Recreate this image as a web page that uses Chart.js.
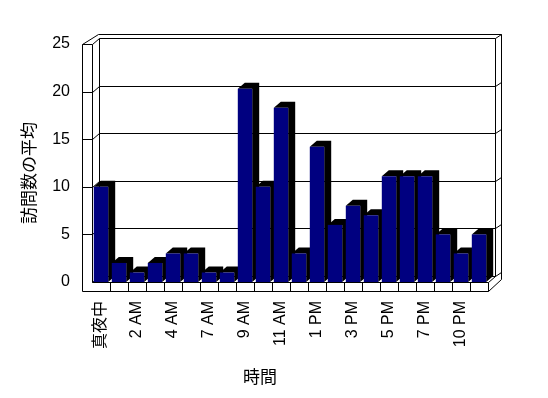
<!DOCTYPE html>
<html>
<head>
<meta charset="utf-8">
<script src="https://cdn.jsdelivr.net/npm/chart.js@4/dist/chart.umd.min.js"></script>
<style>
    html, body { margin: 0; padding: 0; background: #ffffff; }
    #wrap { width: 548px; height: 398px; }
</style>
</head>
<body>
<div id="wrap"><canvas id="grafikKunjungan" width="548" height="398"></canvas></div>
<script>
// --- 1. DATA ---
const jamLabels = ['真夜中', '1 AM', '2 AM', '3 AM', '4 AM', '5 AM', '7 AM', '8 AM', '9 AM', '10 AM', '11 AM',
                   '正午', '1 PM', '2 PM', '3 PM', '4 PM', '5 PM', '6 PM', '7 PM', '8 PM', '10 PM', '11 PM'];
const rataKunjungan = [10, 2, 1, 2, 3, 3, 1, 1, 20.3, 10, 18.3, 3, 14.2, 6, 8, 7, 11.1, 11.1, 11.1, 5, 3, 5];
const yTicks = [0, 5, 10, 15, 20, 25];
const judulX = '時間';
const judulY = '訪問数の平均';

const fontLatin = '"Liberation Sans", "Noto Sans CJK JP", sans-serif';
const fontJudul = '"Noto Sans CJK JP", sans-serif';

// --- 2. PLUGIN EFEK 3D (dinding, lantai, sisi batang) ---
const efek3D = {
    id: 'efek3D',
    beforeDatasetsDraw(chart) {
        const { ctx, chartArea: a, scales: { x, y } } = chart;
        const dx = 7, dy = 6;          // kedalaman ke belakang
        const L = a.left, R = a.right, B = a.bottom;
        const T = y.getPixelForValue(yTicks[yTicks.length - 1]);
        const bl = L + dx, br = R + dx; // dinding belakang
        const wl = L - 10;              // tepi luar dinding kiri
        const tebal = 9;                // tebal lantai

        ctx.save();
        ctx.strokeStyle = '#000';
        ctx.lineWidth = 1;
        const garis = (pts) => {
            ctx.beginPath();
            ctx.moveTo(Math.round(pts[0][0]) + 0.5, Math.round(pts[0][1]) + 0.5);
            for (let i = 1; i < pts.length; i++) {
                ctx.lineTo(Math.round(pts[i][0]) + 0.5, Math.round(pts[i][1]) + 0.5);
            }
            ctx.stroke();
        };

        // garis grid di dinding belakang + dinding kiri
        yTicks.forEach(v => {
            const yy = y.getPixelForValue(v);
            garis([[L, yy], [bl, yy - dy], [br, yy - dy], [br + 6, yy - dy - 4]]);
            if (v !== 0) garis([[wl, yy], [L, yy]]);
        });

        // tepi dinding
        garis([[bl, T - dy], [bl, B - dy]]);
        garis([[br, T - dy], [br, B - dy]]);
        garis([[wl, T], [bl - 1, T - dy - 4], [br + 6, T - dy - 4], [br + 6, B - dy + 3]]);
        garis([[wl, T], [wl, B + tebal]]);
        garis([[L, T], [L, B]]);

        // lantai depan dengan sel kategori
        garis([[L, B], [R, B], [R, B + tebal]]);
        garis([[wl, B + tebal], [R, B + tebal], [br + 6, B - dy + 3]]);
        garis([[R, B], [br, B - dy]]);
        for (let i = 1; i < jamLabels.length; i++) {
            const xx = (x.getPixelForValue(i - 1) + x.getPixelForValue(i)) / 2;
            garis([[xx, B], [xx, B + tebal]]);
        }

        // sisi kanan dan atas tiap batang
        ctx.fillStyle = '#000';
        chart.getDatasetMeta(0).data.forEach(bar => {
            const p = bar.getProps(['x', 'y', 'base', 'width'], true);
            const kiri = p.x - p.width / 2, kanan = p.x + p.width / 2;
            ctx.beginPath();
            ctx.moveTo(kiri, p.y);
            ctx.lineTo(kiri + dx, p.y - dy);
            ctx.lineTo(kanan + dx, p.y - dy);
            ctx.lineTo(kanan + dx, p.base - dy);
            ctx.lineTo(kanan, p.base);
            ctx.lineTo(kanan, p.y);
            ctx.closePath();
            ctx.fill();
        });
        ctx.restore();
    },
    afterDraw(chart) {
        const { ctx } = chart;
        ctx.save();
        ctx.fillStyle = '#000';
        ctx.font = '17px ' + fontJudul;
        ctx.textAlign = 'center';
        ctx.textBaseline = 'middle';
        ctx.fillText(judulX, 260, 377);
        ctx.translate(29, 173);
        ctx.rotate(-Math.PI / 2);
        ctx.fillText(judulY, 0, 0);
        ctx.restore();
    }
};

// --- 3. GRAFIK BATANG ---
const ctx = document.getElementById('grafikKunjungan').getContext('2d');
new Chart(ctx, {
    type: 'bar',
    data: {
        labels: jamLabels,
        datasets: [{
            data: rataKunjungan,
            backgroundColor: '#000080',
            borderWidth: 0,
            barPercentage: 1,
            categoryPercentage: 0.8
        }]
    },
    options: {
        responsive: false,
        animation: false,
        layout: { padding: { left: 0, top: 44, right: 60, bottom: 0 } },
        plugins: {
            legend: { display: false },
            tooltip: { enabled: false }
        },
        scales: {
            x: {
                grid: { display: false, drawTicks: false },
                border: { display: false },
                ticks: {
                    autoSkip: false,
                    minRotation: 90,
                    maxRotation: 90,
                    padding: 19,
                    color: '#000',
                    font: { family: fontLatin, size: 16 },
                    callback: function(v, i) {
                        return i % 2 === 0 ? this.getLabelForValue(v) : '';
                    }
                },
                afterFit: s => { s.height = 398 - 282; }
            },
            y: {
                min: yTicks[0],
                max: yTicks[yTicks.length - 1],
                grid: { display: false, drawTicks: false },
                border: { display: false },
                ticks: {
                    stepSize: 5,
                    padding: 22,
                    color: '#000',
                    font: { family: fontLatin, size: 16 }
                },
                afterFit: s => { s.width = 92; }
            }
        }
    },
    plugins: [efek3D]
});
</script>
</body>
</html>
